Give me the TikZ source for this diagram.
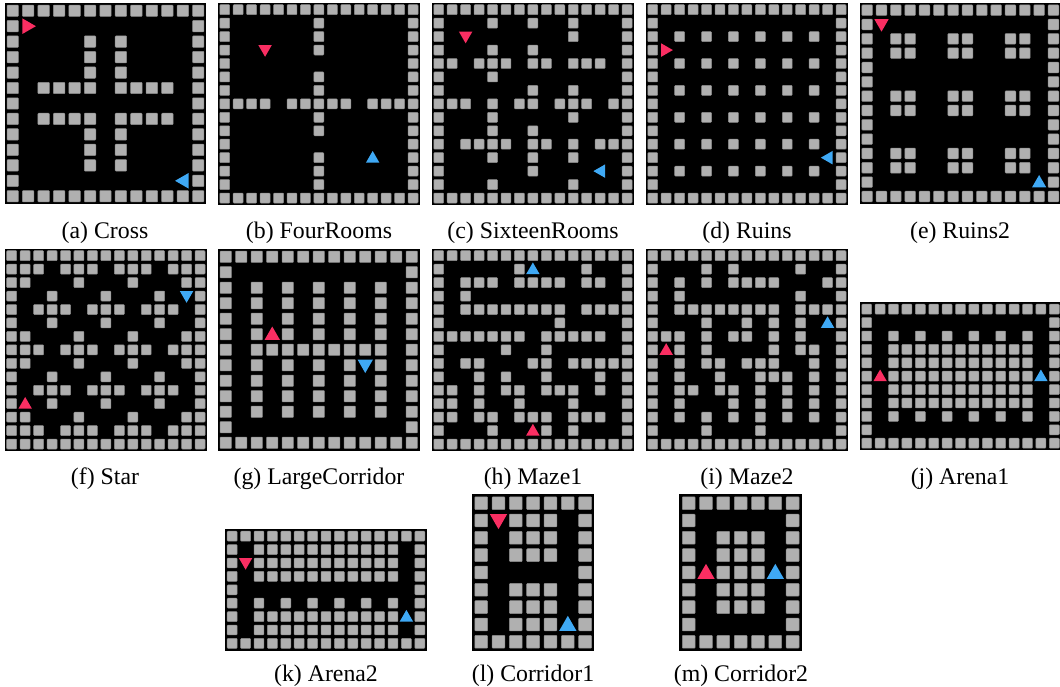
\documentclass[tikz,border=0pt]{standalone}
\usepackage{fontspec}
\setmainfont{Liberation Serif}
\usepackage{xcolor}
\definecolor{wallgray}{HTML}{B0B0B0}
\definecolor{walledge}{HTML}{8C8C8C}
\definecolor{agentred}{HTML}{FA2E62}
\definecolor{agentblue}{HTML}{3FA9F5}

\tikzset{
    wallcell/.style={fill=wallgray, draw=walledge, line width=0.5pt, rounded corners=0.8pt},
    caption/.style={font=\fontsize{23.8}{26}\selectfont, inner sep=0pt, anchor=base}
}

% one wall square at column #1, row #2
\newcommand{\wallat}[2]{\draw[wallcell] (#1+.13,#2+.13) rectangle (#1+.87,#2+.87);}
% black board with its border, #1 columns, #2 rows, #3 inner walls as row/{columns}
\newcommand{\drawmap}[3]{
    \fill[black] (-0.03,-0.03) rectangle (#1+0.03,#2+0.03);
    \pgfmathtruncatemacro{\lastc}{#1-1}
    \pgfmathtruncatemacro{\lastr}{#2-1}
    \foreach \c in {0,...,\lastc} {
        \wallat{\c}{0}
        \wallat{\c}{\lastr}
    }
    \foreach \r in {1,...,\numexpr#2-2\relax} {
        \wallat{0}{\r}
        \wallat{\lastc}{\r}
    }
    \foreach \r/\cols in {#3} {
        \foreach \c in \cols {
            \wallat{\c}{\r}
        }
    }
}
% triangle in colour #1 at column #2, row #3, turned by #4
\newcommand{\agent}[4]{
    \fill[#1, shift={(#2+0.5,#3+0.5)}, rotate=#4] (0,-0.5) -- (0.5,0.37) -- (-0.5,0.37) -- cycle;
}

\begin{document}
\begin{tikzpicture}[x=1pt, y=-1pt]
    \useasboundingbox (0,0) rectangle (1060,687);

    % Cross
    \begin{scope}[shift={(5,3)}, x=15.46pt, y=-15.46pt]
        \drawmap{13}{13}{2/{5,7},3/{5,7},4/{5,7},5/{2,3,4,5,7,8,9,10},7/{2,3,4,5,7,8,9,10},8/{5,7},9/{5,7},10/{5,7}}
        \agent{agentred}{1}{1}{-90}
        \agent{agentblue}{11}{11}{90}
    \end{scope}
    \node[caption] (capa) at (105,238) {(a) Cross};

    % FourRooms
    \begin{scope}[shift={(218,3)}, x=13.45pt, y=-13.45pt]
        \drawmap{15}{15}{1/{7},2/{7},3/{7},5/{7},6/{7},7/{1,2,3,5,6,7,8,9,11,12,13},8/{7},9/{7},11/{7},12/{7},13/{7}}
        \agent{agentred}{3}{3}{180}
        \agent{agentblue}{11}{11}{0}
    \end{scope}
    \node[caption] (capb) at (319,238) {(b) FourRooms};

    % SixteenRooms
    \begin{scope}[shift={(432,3)}, x=13.45pt, y=-13.45pt]
        \drawmap{15}{15}{1/{4,7,10},2/{10},3/{4,7},4/{1,3,4,5,7,8,10,11,12},5/{4},6/{7,10},7/{1,2,4,6,7,9,10,11,13},8/{4,10},9/{4,7},10/{2,3,4,5,7,8,10,12,13},11/{4,7,10},12/{7},13/{4,10}}
        \agent{agentred}{2}{2}{180}
        \agent{agentblue}{12}{12}{90}
    \end{scope}
    \node[caption] (capc) at (533,238) {(c) SixteenRooms};

    % Ruins
    \begin{scope}[shift={(646,3)}, x=13.45pt, y=-13.45pt]
        \drawmap{15}{15}{2/{2,4,6,8,10,12},4/{2,4,6,8,10,12},6/{2,4,6,8,10,12},8/{2,4,6,8,10,12},10/{2,4,6,8,10,12},12/{2,4,6,8,10,12}}
        \agent{agentred}{1}{3}{-90}
        \agent{agentblue}{13}{11}{90}
    \end{scope}
    \node[caption] (capd) at (747,238) {(d) Ruins};

    % Ruins2
    \begin{scope}[shift={(860,3)}, x=14.33pt, y=-14.33pt]
        \drawmap{14}{14}{2/{2,3,6,7,10,11},3/{2,3,6,7,10,11},6/{2,3,6,7,10,11},7/{2,3,6,7,10,11},10/{2,3,6,7,10,11},11/{2,3,6,7,10,11}}
        \agent{agentred}{1}{1}{180}
        \agent{agentblue}{12}{12}{0}
    \end{scope}
    \node[caption] (cape) at (960,238) {(e) Ruins2};

    % Star
    \begin{scope}[shift={(5,249)}, x=13.45pt, y=-13.45pt]
        \drawmap{15}{15}{1/{1,2,4,5,6,8,9,10,12,13},2/{1,5,9,13},3/{3,7,11},4/{2,3,4,6,7,8,10,11,12},5/{3,7,11},6/{1,5,9,13},7/{1,2,4,5,6,8,9,10,12,13},8/{1,5,9,13},9/{3,7,11},10/{2,3,4,6,7,8,10,11,12},11/{3,7,11},12/{1,5,9,13},13/{1,2,4,5,6,8,9,10,12,13}}
        \agent{agentred}{1}{11}{0}
        \agent{agentblue}{13}{3}{180}
    \end{scope}
    \node[caption] (capf) at (105,484) {(f) Star};

    % LargeCorridor
    \begin{scope}[shift={(218,249)}, x=15.5pt, y=-15.5pt]
        \drawmap{13}{13}{2/{2,4,6,8,10},3/{2,4,6,8,10},4/{2,4,6,8,10},5/{2,4,6,8,10},6/{2,3,4,5,6,7,8,9,10},7/{2,4,6,8,10},8/{2,4,6,8,10},9/{2,4,6,8,10},10/{2,4,6,8,10}}
        \agent{agentred}{3}{5}{0}
        \agent{agentblue}{9}{7}{180}
    \end{scope}
    \node[caption] (capg) at (319,484) {(g) LargeCorridor};

    % Maze1
    \begin{scope}[shift={(432,249)}, x=13.45pt, y=-13.45pt]
        \drawmap{15}{15}{1/{6,11},2/{2,3,4,6,7,8,9,11,12},3/{2},4/{2,3,4,5,6,7,8,9,11,12,13},5/{9},6/{1,2,3,4,5,6,8,9,10,11,12},7/{5,8},8/{2,3,7,8,10,11,12,13},9/{3,5,8,12},10/{1,3,5,6,8,9,10,12},11/{1,3,6,10},12/{1,3,4,6,7,8,10,11,12},13/{4,8,10}}
        \agent{agentred}{7}{13}{0}
        \agent{agentblue}{7}{1}{0}
    \end{scope}
    \node[caption] (caph) at (533,484) {(h) Maze1};

    % Maze2
    \begin{scope}[shift={(646,249)}, x=13.45pt, y=-13.45pt]
        \drawmap{15}{15}{1/{4,6,11},2/{2,4,6,7,8,9,13},3/{2,11},4/{2,3,4,5,6,7,8,9,11,12,13},5/{4,7,9,11},6/{1,2,4,6,7,9,11},7/{2,4,9,11,12},8/{2,4,5,7,8,9,12},9/{2,5,8,9,10,12},10/{2,3,5,6,8,10,12},11/{2,6,8,10,12},12/{2,4,6,8,10,12},13/{4,8}}
        \agent{agentred}{1}{7}{0}
        \agent{agentblue}{13}{5}{0}
    \end{scope}
    \node[caption] (capi) at (747,484) {(i) Maze2};

    % Arena1
    \begin{scope}[shift={(860,302.5)}, x=13.4pt, y=-13.4pt]
        \drawmap{15}{11}{2/{2,4,6,8,10,12},3/{2,3,4,5,6,7,8,9,10,11,12},4/{2,3,4,5,6,7,8,9,10,11,12},5/{2,3,4,5,6,7,8,9,10,11,12},6/{2,3,4,5,6,7,8,9,10,11,12},7/{2,3,4,5,6,7,8,9,10,11,12},8/{2,4,6,8,10,12}}
        \agent{agentred}{1}{5}{0}
        \agent{agentblue}{13}{5}{0}
    \end{scope}
    \node[caption] (capj) at (960,484) {(j) Arena1};

    % Arena2
    \begin{scope}[shift={(225.5,529.5)}, x=13.4pt, y=-13.4pt]
        \drawmap{15}{9}{1/{2,3,4,5,6,7,8,9,10,11,12},2/{2,3,4,5,6,7,8,9,10,11,12},3/{2,3,4,5,6,7,8,9,10,11,12},5/{2,4,6,8,10,12},6/{2,3,4,5,6,7,8,9,10,11,12},7/{2,3,4,5,6,7,8,9,10,11,12}}
        \agent{agentred}{1}{2}{180}
        \agent{agentblue}{13}{6}{0}
    \end{scope}
    \node[caption] (capk) at (326,681.5) {(k) Arena2};

    % Corridor1
    \begin{scope}[shift={(472.5,494.5)}, x=17.33pt, y=-17.33pt]
        \drawmap{7}{9}{1/{2,3,4},2/{2,3,4},3/{2,3,4},5/{2,3,4},6/{2,3,4},7/{2,3,4}}
        \agent{agentred}{1}{1}{180}
        \agent{agentblue}{5}{7}{0}
    \end{scope}
    \node[caption] (capl) at (533,681.5) {(l) Corridor1};

    % Corridor2
    \begin{scope}[shift={(680,494.5)}, x=17.33pt, y=-17.33pt]
        \drawmap{7}{9}{2/{2,3,4},3/{2,3,4},4/{2,3,4},5/{2,3,4},6/{2,3,4}}
        \agent{agentred}{1}{4}{0}
        \agent{agentblue}{5}{4}{0}
    \end{scope}
    \node[caption] (capm) at (741,681.5) {(m) Corridor2};
\end{tikzpicture}
\end{document}
